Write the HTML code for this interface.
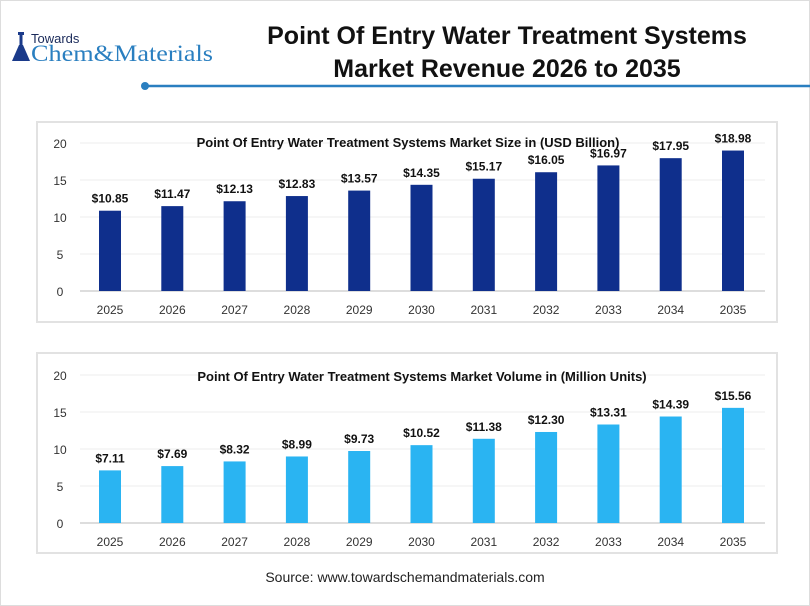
<!DOCTYPE html>
<html><head><meta charset="utf-8"><style>
body{margin:0;background:#fff;}
svg{display:block;font-family:"Liberation Sans",sans-serif;}
</style></head><body>
<svg width="810" height="606" viewBox="0 0 810 606">
<rect x="0.5" y="0.5" width="809" height="605" fill="#fff" stroke="#ddd"/>
<!-- logo -->
<g fill="#1a3a8a">
<rect x="18" y="32" width="6" height="3"/>
<rect x="19.5" y="35" width="3" height="10"/>
<path d="M12 61 L19 45 L23 45 L30 61 Z"/>
</g>
<text x="31" y="43" font-size="13" fill="#1a2a5a">Towards</text>
<text x="31" y="61" font-size="23" fill="#2a7fc0" font-family="Liberation Serif,serif" textLength="182" lengthAdjust="spacingAndGlyphs">Chem&amp;Materials</text>
<!-- title -->
<text x="507" y="44" font-size="25" font-weight="bold" text-anchor="middle" fill="#111">Point Of Entry Water Treatment Systems</text>
<text x="507" y="77" font-size="25" font-weight="bold" text-anchor="middle" fill="#111">Market Revenue 2026 to 2035</text>
<line x1="145" y1="86" x2="810" y2="86" stroke="#2a7fc0" stroke-width="2.5"/>
<circle cx="145" cy="86" r="4" fill="#2a7fc0"/>
<!-- chart 1 -->
<rect x="37" y="122" width="740" height="200" fill="#fff" stroke="#e2e2e2" stroke-width="2"/>
<g stroke="#eee"><line x1="80" y1="143" x2="765" y2="143"/><line x1="80" y1="180" x2="765" y2="180"/><line x1="80" y1="217" x2="765" y2="217"/><line x1="80" y1="254" x2="765" y2="254"/></g>
<line x1="80" y1="291" x2="765" y2="291" stroke="#bbb"/>
<g font-size="12" fill="#333" text-anchor="middle"><text x="60" y="148">20</text><text x="60" y="185">15</text><text x="60" y="222">10</text><text x="60" y="259">5</text><text x="60" y="296">0</text></g>
<text x="408" y="147" font-size="13" font-weight="bold" text-anchor="middle" fill="#111">Point Of Entry Water Treatment Systems Market Size in (USD Billion)</text>
<g id="c1"></g>
<!-- chart 2 -->
<rect x="37" y="353" width="740" height="200" fill="#fff" stroke="#e2e2e2" stroke-width="2"/>
<g stroke="#eee"><line x1="80" y1="375" x2="765" y2="375"/><line x1="80" y1="412" x2="765" y2="412"/><line x1="80" y1="449" x2="765" y2="449"/><line x1="80" y1="486" x2="765" y2="486"/></g>
<line x1="80" y1="523" x2="765" y2="523" stroke="#bbb"/>
<g font-size="12" fill="#333" text-anchor="middle"><text x="60" y="380">20</text><text x="60" y="417">15</text><text x="60" y="454">10</text><text x="60" y="491">5</text><text x="60" y="528">0</text></g>
<text x="422" y="381" font-size="13" font-weight="bold" text-anchor="middle" fill="#111">Point Of Entry Water Treatment Systems Market Volume in (Million Units)</text>
<g id="c2"></g>
<text x="405" y="582" font-size="14" text-anchor="middle" fill="#222">Source: www.towardschemandmaterials.com</text>
</svg>
<script>
const ns="http://www.w3.org/2000/svg";
function draw(id,vals,zero,col){
 const g=document.getElementById(id);
 vals.forEach((v,i)=>{
  const cx=110+i*62.3, top=zero-v*7.4;
  const r=document.createElementNS(ns,"rect");
  r.setAttribute("x",cx-11);r.setAttribute("y",top);r.setAttribute("width",22);r.setAttribute("height",zero-top);r.setAttribute("fill",col);g.appendChild(r);
  const t=document.createElementNS(ns,"text");
  t.setAttribute("x",cx);t.setAttribute("y",top-8);t.setAttribute("font-size","12");t.setAttribute("font-weight","bold");t.setAttribute("text-anchor","middle");t.setAttribute("fill","#111");t.textContent="$"+v.toFixed(2);g.appendChild(t);
  const y=document.createElementNS(ns,"text");
  y.setAttribute("x",cx);y.setAttribute("y",zero+23);y.setAttribute("font-size","12");y.setAttribute("text-anchor","middle");y.setAttribute("fill","#333");y.textContent=2025+i;g.appendChild(y);
 });
}
draw("c1",[10.85,11.47,12.13,12.83,13.57,14.35,15.17,16.05,16.97,17.95,18.98],291,"#0f2f8c");
draw("c2",[7.11,7.69,8.32,8.99,9.73,10.52,11.38,12.30,13.31,14.39,15.56],523,"#2ab4f2");
</script>
</body></html>
